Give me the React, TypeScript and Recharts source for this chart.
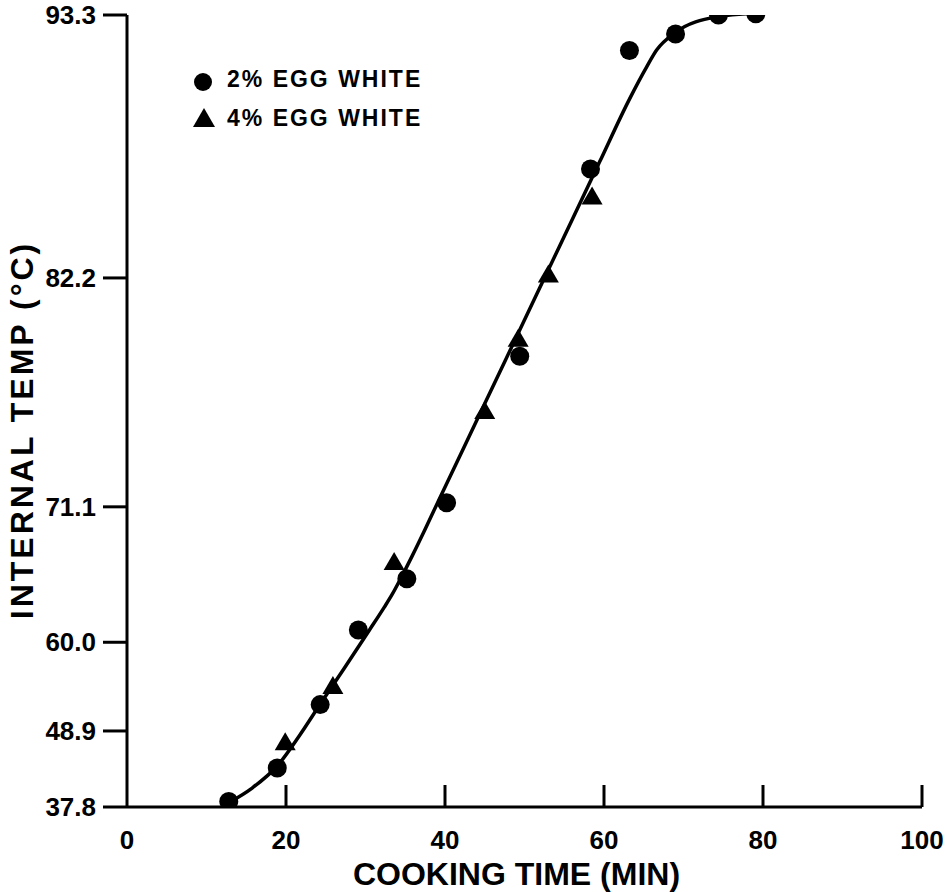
import React from 'react';
import { ComposedChart, Line, Scatter, XAxis, YAxis, Legend, Label } from 'recharts';

// y axis of the original is not linear: tick labels and where they sit (fraction of axis height)
const TEMP_TICKS = [37.8, 48.9, 60.0, 71.1, 82.2, 93.3];
const TICK_FRACTIONS = [0, 0.096, 0.208, 0.379, 0.668, 1];
const TIME_TICKS = [0, 20, 40, 60, 80, 100];

// 2% egg white (circles)
const EGG2_TIME = [12.8, 18.9, 24.3, 29.1, 35.2, 40.2, 49.4, 58.3, 63.2, 69.0, 74.4, 79.1];
const EGG2_TEMP = [38.6, 43.5, 52.2, 61.0, 65.2, 71.3, 78.4, 86.8, 91.8, 92.5, 93.3, 93.35];

// 4% egg white (triangles)
const EGG4_TIME = [19.9, 25.9, 33.6, 45.0, 49.2, 53.0, 58.5];
const EGG4_TEMP = [47.1, 54.4, 66.5, 75.7, 79.2, 82.3, 85.6];

// fitted curve
const CURVE_TIME = [12.72, 15.74, 18.89, 21.66, 24.31, 27.33, 30.48, 32.37, 33.35, 34.51, 35.86, 37.41, 39.29, 44.33, 49.37, 54.41, 59.45, 63.22, 65.37, 66.62, 68.89, 74.18, 79.22];
const CURVE_TEMP = [38.38, 40.57, 43.79, 48.17, 52.27, 56.76, 60.99, 62.88, 63.92, 65.33, 67.06, 69.14, 71.48, 75.56, 79.65, 83.54, 87.1, 89.76, 91.11, 91.82, 92.54, 93.22, 93.38];

const FONT = '"Liberation Sans", Arial, Helvetica, sans-serif';

function toAxis(t: number): number {
  let i = 0;
  while (i < TEMP_TICKS.length - 2 && t > TEMP_TICKS[i + 1]) i++;
  const f = (t - TEMP_TICKS[i]) / (TEMP_TICKS[i + 1] - TEMP_TICKS[i]);
  return TICK_FRACTIONS[i] + f * (TICK_FRACTIONS[i + 1] - TICK_FRACTIONS[i]);
}

const build = (xs: number[], ys: number[]) => xs.map((x, i) => ({ x, y: toAxis(ys[i]) }));

const egg2 = build(EGG2_TIME, EGG2_TEMP);
const egg4 = build(EGG4_TIME, EGG4_TEMP);
const curve = build(CURVE_TIME, CURVE_TEMP);

const Dot = (p: any) => <circle cx={p.cx} cy={p.cy} r={9.5} fill="#000" />;

const Tri = (p: any) => {
  const { cx, cy } = p;
  return <polygon points={`${cx},${cy - 11} ${cx - 10.5},${cy + 7} ${cx + 10.5},${cy + 7}`} fill="#000" />;
};

const XTick = (p: any) => {
  const { x, y, payload } = p;
  return (
    <g>
      {payload.value !== 0 && <line x1={x} y1={y} x2={x} y2={y - 22} stroke="#000" strokeWidth={3} />}
      <text x={x} y={y + 42} textAnchor="middle" fontSize={26} fontWeight="bold" fontFamily={FONT} fill="#000">
        {payload.value}
      </text>
    </g>
  );
};

const LegendBox = () => (
  <svg width={280} height={90}>
    <circle cx={23} cy={22} r={9} fill="#000" />
    <text x={47} y={27} fontSize={23} fontWeight="bold" fontFamily={FONT} letterSpacing={2}>2% EGG WHITE</text>
    <polygon points="24,48 13,67 35,67" fill="#000" />
    <text x={47} y={66} fontSize={23} fontWeight="bold" fontFamily={FONT} letterSpacing={2}>4% EGG WHITE</text>
  </svg>
);

export default function App() {
  return (
    <div style={{ position: 'absolute', left: 0, top: 0, background: '#fff' }}>
      <ComposedChart width={948} height={892} margin={{ top: 15, right: 26, bottom: 0, left: 0 }} style={{ fontFamily: FONT }}>
        <XAxis
          type="number"
          dataKey="x"
          domain={[0, 100]}
          ticks={TIME_TICKS}
          interval={0}
          height={85}
          axisLine={{ stroke: '#000', strokeWidth: 3 }}
          tickLine={false}
          tickSize={0}
          tickMargin={0}
          tick={<XTick />}
        >
          <Label
            content={(p: any) => {
              const vb = p.viewBox;
              return (
                <text x={vb.x + vb.width / 2 - 8} y={vb.y + 78} textAnchor="middle" fontSize={32} fontWeight="bold" fontFamily={FONT} fill="#000">
                  COOKING TIME (MIN)
                </text>
              );
            }}
          />
        </XAxis>
        <YAxis
          type="number"
          dataKey="y"
          domain={[0, 1]}
          allowDataOverflow
          ticks={TICK_FRACTIONS}
          interval={0}
          width={127}
          tickFormatter={(v: number) => TEMP_TICKS[TICK_FRACTIONS.indexOf(v)].toFixed(1)}
          axisLine={{ stroke: '#000', strokeWidth: 3 }}
          tickLine={{ stroke: '#000', strokeWidth: 3 }}
          tickSize={24}
          tickMargin={7}
          tick={{ fontSize: 26, fontWeight: 'bold', fill: '#000', fontFamily: FONT }}
        >
          <Label
            content={() => (
              <text
                x={33}
                y={430}
                transform="rotate(-90, 33, 430)"
                textAnchor="middle"
                fontSize={32}
                fontWeight="bold"
                fontFamily={FONT}
                letterSpacing={3}
                fill="#000"
              >
                INTERNAL TEMP (°C)
              </text>
            )}
          />
        </YAxis>
        <Legend
          layout="horizontal"
          verticalAlign="middle"
          align="center"
          content={<LegendBox />}
          wrapperStyle={{ left: 180, top: 60, width: 280, height: 90 }}
        />
        <Line
          data={curve}
          dataKey="y"
          type="monotone"
          stroke="#000"
          strokeWidth={3.5}
          dot={false}
          legendType="none"
          isAnimationActive={false}
        />
        <Scatter data={egg2} dataKey="y" shape={<Dot />} name="2% EGG WHITE" isAnimationActive={false} />
        <Scatter data={egg4} dataKey="y" shape={<Tri />} name="4% EGG WHITE" isAnimationActive={false} />
      </ComposedChart>
    </div>
  );
}
